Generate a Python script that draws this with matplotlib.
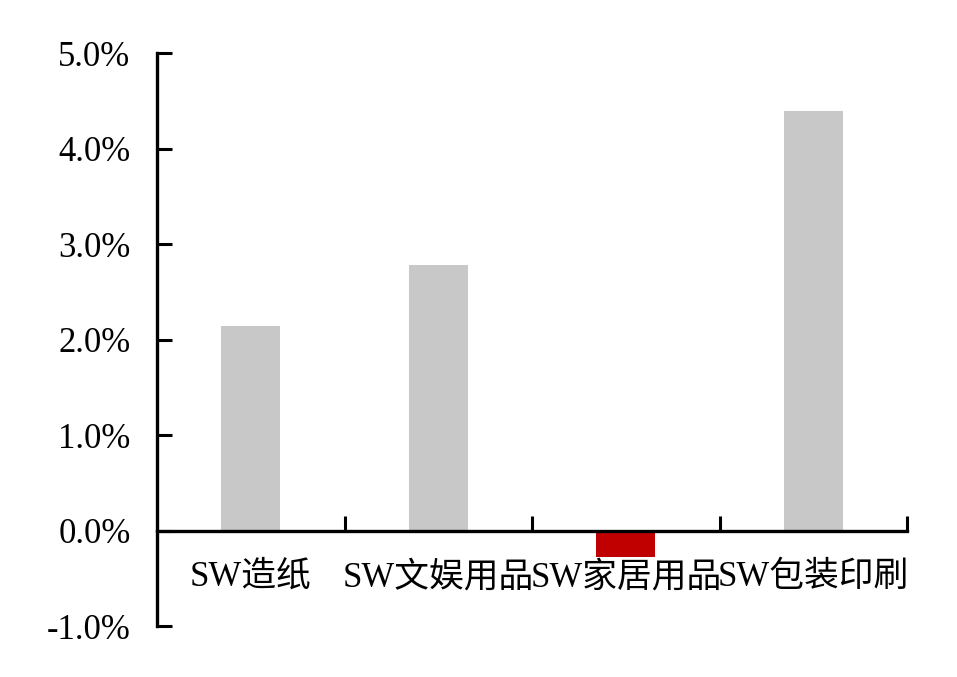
import numpy as np
import matplotlib.pyplot as plt
from matplotlib.ticker import FuncFormatter, FixedLocator

plt.rcParams['font.family'] = ['Liberation Serif', 'Noto Sans CJK SC', 'DejaVu Sans']

categories = ['SW造纸', 'SW文娱用品', 'SW家居用品', 'SW包装印刷']
values = [2.14, 2.78, -0.28, 4.39]   # percent
colors = ['#C8C8C8', '#C8C8C8', '#C00000', '#C8C8C8']
yticks = [-1, 0, 1, 2, 3, 4, 5]

fig = plt.figure(figsize=(9.57, 6.77), dpi=100)
ax = fig.add_axes([0.164, 0.0753, 0.784, 0.8464])

x = np.arange(len(categories))
ax.bar(x, values, width=0.315, color=colors, zorder=1)

ax.set_xlim(-0.5, len(categories) - 0.5)
ax.set_ylim(-1, 5)
ax.set_yticks(yticks)
ax.yaxis.set_major_formatter(FuncFormatter(lambda v, p: '%.1f%%' % v))

# x axis sits on zero; boundary ticks point up, labels at bar centres
for s in ['top', 'right']:
    ax.spines[s].set_visible(False)
ax.spines['bottom'].set_position(('data', 0))
ax.spines['bottom'].set_zorder(3)
for s in ['left', 'bottom']:
    ax.spines[s].set_linewidth(2.4)

ax.xaxis.set_major_locator(FixedLocator(list(x + 0.5)))
ax.xaxis.set_major_formatter(FuncFormatter(lambda v, p: ''))
ax.xaxis.set_minor_locator(FixedLocator(list(x)))
ax.set_xticklabels(categories, minor=True)

ax.tick_params(axis='x', which='major', direction='in', length=11, width=2.2)
ax.tick_params(axis='x', which='minor', length=0, pad=22, labelsize=25)
ax.tick_params(axis='y', direction='in', length=11, width=2.2, pad=19, labelsize=25)

fig.savefig('out.png', dpi=100)
